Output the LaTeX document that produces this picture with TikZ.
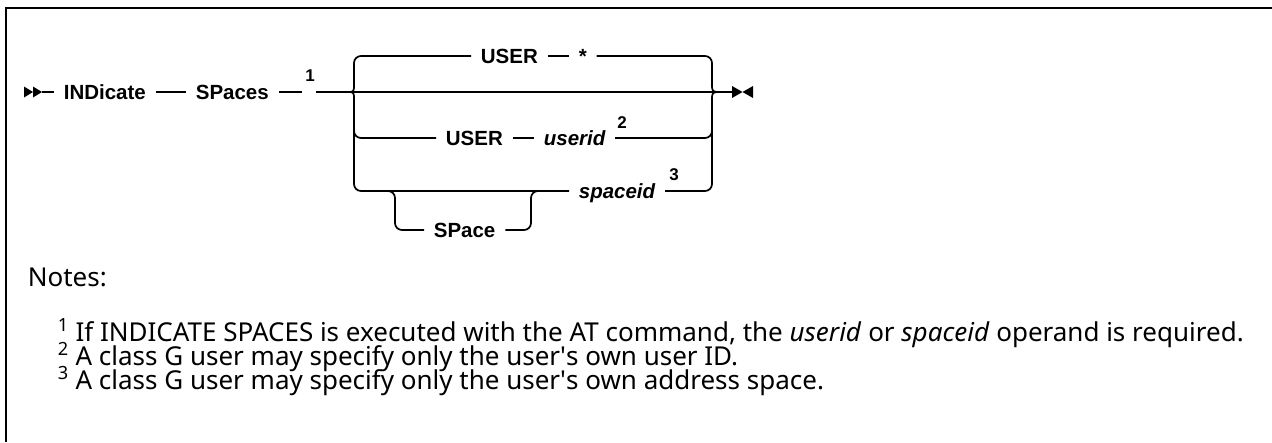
\documentclass[tikz,border=0pt]{standalone}
\usepackage{fontspec}
\setmainfont{Noto Sans}
\newfontfamily\rrfont{Liberation Sans}
\usetikzlibrary{positioning}
\newcommand{\rrsize}{\fontsize{20.5}{20.5}\selectfont}
\tikzset{
  kw/.style={font=\rrfont\bfseries\rrsize,inner xsep=9pt,inner ysep=0pt,text height=15pt,text depth=0pt,anchor=west},
  var/.style={kw,font=\rrfont\bfseries\itshape\rrsize},
  fn/.style={font=\rrfont\bfseries\fontsize{17}{17}\selectfont,inner sep=0pt},
  gap/.style={inner sep=0pt,minimum width=12pt,minimum height=2pt},
  note/.style={font=\fontsize{26}{26}\selectfont,inner sep=0pt,anchor=base west}
}

\begin{document}
\begin{tikzpicture}[x=1pt,y=-1pt,line width=1.7pt]
    \useasboundingbox (0,0) rectangle (1272,442);
    \draw[line width=2.6pt] (6,442) -- (6,8) -- (1272,8);
    \coordinate (st) at (42,92);
    \node[kw] (ind) at (54,92) {INDicate};
    \node[kw] (sp) at (186,92) {SPaces};
    \node[gap] (g1) at (309,92) {};
    \node[fn] (f1) at (310,76) {1};
    \coordinate (bl) at (347,92);
    \coordinate (lx) at (354,92);
    \coordinate (ltop) at (354,84);
    \coordinate (lbot) at (354,100);
    \coordinate (br) at (722,92);
    \coordinate (rx) at (712,92);
    \coordinate (rtop) at (712,84);
    \coordinate (rbot) at (712,100);
    \coordinate (en) at (732,92);
    \node[kw] (u1) at (471,56) {USER};
    \node[kw] (ast) at (569,56) {*};
    \node[kw] (u2) at (436,138) {USER};
    \node[var] (uid) at (534,138) {userid};
    \node[fn] (f2) at (622,123) {2};
    \node[var] (sid) at (569,191) {spaceid};
    \node[fn] (f3) at (674,175) {3};
    \coordinate (sl) at (395,191);
    \coordinate (sr) at (531,191);
    \node[kw] (spc) at (424,230) {SPace};
    \fill (st) -- ++(-9,-5.5) -- ++(0,11) -- cycle;
    \fill ([xshift=-9pt]st) -- ++(-9,-5.5) -- ++(0,11) -- cycle;
    \fill (en) ++(0,-6) -- ++(10.5,6) -- ++(-10.5,6) -- cycle;
    \fill (en) ++(21,-6) -- ++(-10.5,6) -- ++(10.5,6) -- cycle;
    \draw (st) -- (ind);
    \draw (ind) -- (sp);
    \draw (sp) -- (g1);
    \draw (g1) -- (en);
    \draw (bl) .. controls (lx) .. (ltop) [rounded corners=7] |- (u1);
    \draw (bl) .. controls (lx) .. (lbot) [rounded corners=7] |- (sid);
    \draw[rounded corners=7] (lbot) |- (u2);
    \draw (br) .. controls (rx) .. (rtop) [rounded corners=7] |- (ast);
    \draw (br) .. controls (rx) .. (rbot) [rounded corners=7] |- (sid);
    \draw[rounded corners=7] (rbot) |- (uid);
    \draw (u1) -- (ast);
    \draw (u2) -- (uid);
    \draw[rounded corners=7] ([xshift=-10pt]sl) -- (sl) |- (spc);
    \draw[rounded corners=7] (spc) -| (sr) -- ([xshift=10pt]sr);
    \node[note] (nh) at (27,286) {Notes:};
    \node[note] (n1) at (57,341) {\textsuperscript{1} If INDICATE SPACES is executed with the AT command, the \textit{userid} or \textit{spaceid} operand is required.};
    \node[note] (n2) at (57,365) {\textsuperscript{2} A class G user may specify only the user\textquotesingle s own user ID.};
    \node[note] (n3) at (57,389) {\textsuperscript{3} A class G user may specify only the user\textquotesingle s own address space.};
\end{tikzpicture}
\end{document}
